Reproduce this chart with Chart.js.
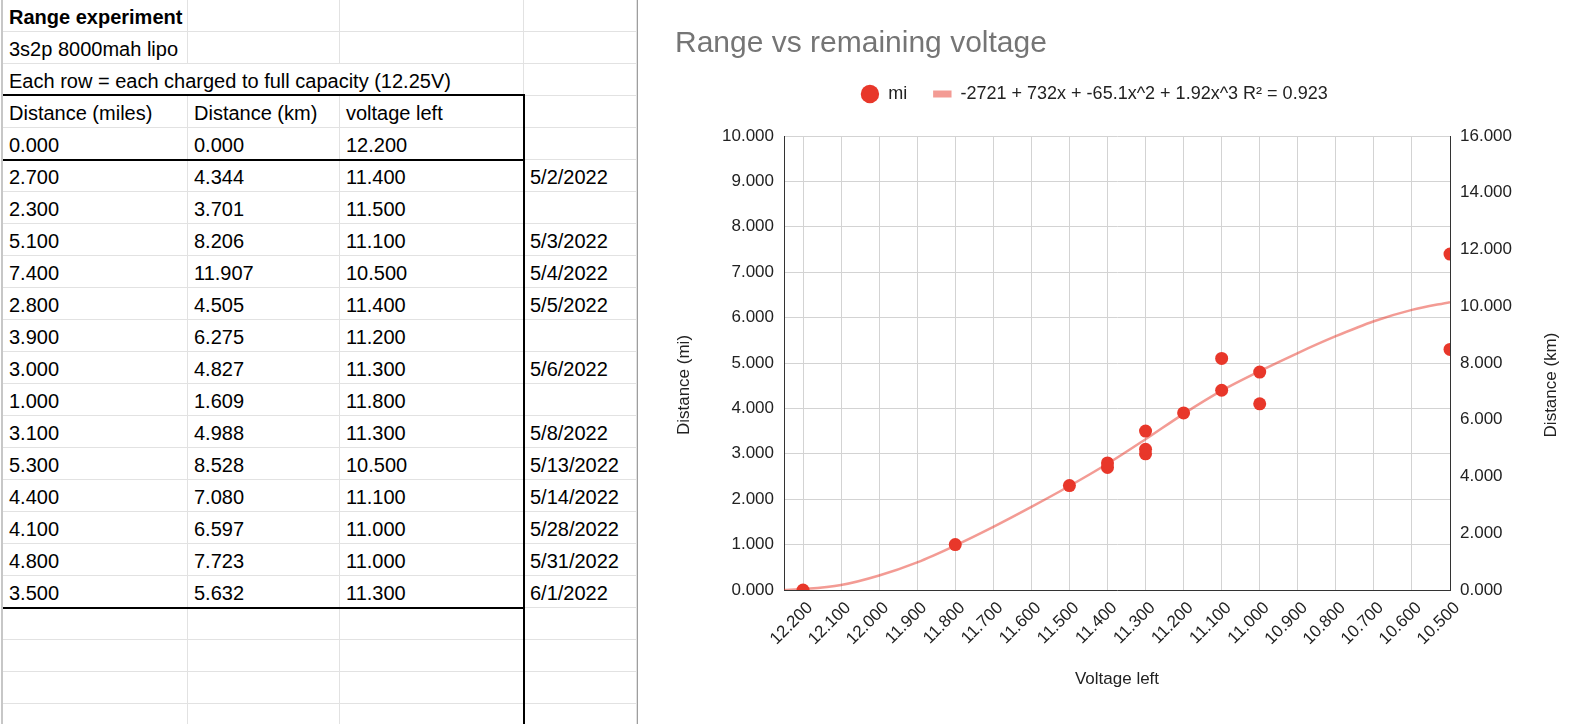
<!DOCTYPE html>
<html>
<head>
<meta charset="utf-8">
<title>Range vs remaining voltage</title>
<script src="https://cdn.jsdelivr.net/npm/chart.js@4.4.0/dist/chart.umd.min.js"></script>
<style>
html,body{margin:0;padding:0;background:#fff;overflow:hidden;}
body{width:1596px;height:724px;position:relative;font-family:Arial,"Liberation Sans",sans-serif;}
#sheet{position:absolute;left:0;top:0;width:637px;height:724px;overflow:hidden;}
.cell{position:absolute;box-sizing:border-box;border-right:1px solid #e2e2e2;border-bottom:1px solid #e2e2e2;
  font-size:20px;line-height:32px;padding:1px 0 0 6px;white-space:nowrap;color:#000;}
.line{position:absolute;background:#000;}
#rowhead{position:absolute;left:1px;top:0;width:2px;height:724px;background:#c7c7c7;}
#split{position:absolute;left:637px;top:0;width:1px;height:724px;background:#9e9e9e;}
#chartBox{position:absolute;left:638px;top:0;width:958px;height:724px;}
</style>
</head>
<body>
<div id="sheet"></div>
<div id="rowhead"></div>
<div id="split"></div>
<div id="chartBox"><canvas id="myChart" width="958" height="724"></canvas></div>
<script>
// sheet data
let voltage=[12.2,11.4,11.5,11.1,10.5,11.4,11.2,11.3,11.8,11.3,10.5,11.1,11.0,11.0,11.3];
let miles=[0,2.7,2.3,5.1,7.4,2.8,3.9,3.0,1.0,3.1,5.3,4.4,4.1,4.8,3.5];
let km=[0,4.344,3.701,8.206,11.907,4.505,6.275,4.827,1.609,4.988,8.528,7.080,6.597,7.723,5.632];
let dates=["","5/2/2022","","5/3/2022","5/4/2022","5/5/2022","","5/6/2022","","5/8/2022","5/13/2022","5/14/2022","5/28/2022","5/31/2022","6/1/2022"];

// trendline (voltage -> miles)
let trendVolts=[12.25,12.2,12.1,12.0,11.9,11.8,11.7,11.6,11.5,11.4,11.3,11.2,11.1,11.0,10.9,10.8,10.7,10.6,10.5];
let trendMiles=[0.00,0.02,0.11,0.32,0.61,0.98,1.39,1.83,2.29,2.78,3.32,3.88,4.39,4.82,5.22,5.59,5.92,6.17,6.34];
let trendLabel="-2721 + 732x + -65.1x^2 + 1.92x^3 R² = 0.923";

let voltTicks=[12.2,12.1,12.0,11.9,11.8,11.7,11.6,11.5,11.4,11.3,11.2,11.1,11.0,10.9,10.8,10.7,10.6,10.5];
let miTicks=[0,1,2,3,4,5,6,7,8,9,10];
let kmTicks=[0,2,4,6,8,10,12,14,16];

// spreadsheet
let sheet=document.getElementById('sheet');
let colX=[3,188,340,524];
let colW=[185,152,184,113];
let rowH=32;

function cell(r,c,text,span,bold){
  let w=0;
  for(let i=c;i<c+span;i++) w+=colW[i];
  let d=document.createElement('div');
  d.className='cell';
  d.style.left=colX[c]+'px';
  d.style.top=(r*rowH)+'px';
  d.style.width=w+'px';
  d.style.height=rowH+'px';
  if(bold) d.style.fontWeight='bold';
  d.textContent=text;
  sheet.appendChild(d);
}

let rows=[];
rows.push([["Range experiment",1,true],["",1],["",1],["",1]]);
rows.push([["3s2p 8000mah lipo",1],["",1],["",1],["",1]]);
rows.push([["Each row = each charged to full capacity (12.25V)",3],["",1]]);
rows.push([["Distance (miles)",1],["Distance (km)",1],["voltage left",1],["",1]]);
for(let i=0;i<miles.length;i++){
  rows.push([[miles[i].toFixed(3),1],[km[i].toFixed(3),1],[voltage[i].toFixed(3),1],[dates[i],1]]);
}
for(let i=0;i<4;i++) rows.push([["",1],["",1],["",1],["",1]]);

for(let r=0;r<rows.length;r++){
  let c=0;
  for(let k=0;k<rows[r].length;k++){
    let it=rows[r][k];
    cell(r,c,it[0],it[1],it[2]);
    c+=it[1];
  }
}

function thick(l,t,w,h){
  let d=document.createElement('div');
  d.className='line';
  d.style.left=l+'px';d.style.top=t+'px';d.style.width=w+'px';d.style.height=h+'px';
  sheet.appendChild(d);
}
thick(3,94,522,2);
thick(3,159,522,2);
thick(3,607,522,2);
thick(523,94,2,630);

// chart
Chart.defaults.font.family='Arial, "Liberation Sans", sans-serif';

let red='#e8372a';
let trendColor='rgba(232,55,42,0.5)';

let legendGap={
  id:'legendGap',
  beforeInit(chart){
    let fit=chart.legend.fit;
    chart.legend.fit=function(){
      fit.bind(chart.legend)();
      this.height+=23;
    };
  }
};

// y axis titles, centred a little below the plot centre like the original
let axisTitles={
  id:'axisTitles',
  afterDraw(chart){
    let ctx=chart.ctx;
    let a=chart.chartArea;
    let cy=(a.top+a.bottom)/2+22;
    ctx.save();
    ctx.font='17px Arial, "Liberation Sans", sans-serif';
    ctx.fillStyle='#222';
    ctx.textAlign='center';
    ctx.textBaseline='middle';
    ctx.translate(a.left-100,cy);
    ctx.rotate(-Math.PI/2);
    ctx.fillText('Distance (mi)',0,0);
    ctx.restore();
    ctx.save();
    ctx.font='17px Arial, "Liberation Sans", sans-serif';
    ctx.fillStyle='#222';
    ctx.textAlign='center';
    ctx.textBaseline='middle';
    ctx.translate(a.right+101,cy);
    ctx.rotate(-Math.PI/2);
    ctx.fillText('Distance (km)',0,0);
    ctx.restore();
  }
};

new Chart(document.getElementById('myChart'),{
  type:'scatter',
  data:{
    datasets:[
      {
        type:'scatter',
        label:'mi',
        data:voltage.map((v,i)=>({x:v,y:miles[i]})),
        backgroundColor:red,
        borderWidth:0,
        pointRadius:6.5,
        pointHoverRadius:6.5,
        clip:0,
        order:0,
        yAxisID:'y'
      },
      {
        type:'line',
        label:trendLabel,
        data:trendVolts.map((v,i)=>({x:v,y:trendMiles[i]})),
        borderColor:trendColor,
        borderWidth:2.5,
        pointRadius:0,
        cubicInterpolationMode:'monotone',
        fill:false,
        clip:0,
        order:1,
        yAxisID:'y'
      }
    ]
  },
  options:{
    responsive:false,
    animation:false,
    layout:{padding:{left:37,right:82.6,top:0,bottom:0}},
    plugins:{
      title:{
        display:true,
        text:'Range vs remaining voltage',
        align:'start',
        color:'#757575',
        font:{size:30,weight:'normal',lineHeight:1},
        padding:{top:29,bottom:0}
      },
      legend:{
        display:true,
        labels:{
          usePointStyle:true,
          pointStyleWidth:18.4,
          boxHeight:13,
          padding:26,
          color:'#222',
          font:{size:18},
          generateLabels:(chart)=>chart.data.datasets.map((ds,i)=>({
            text:ds.label,
            datasetIndex:i,
            hidden:false,
            fontColor:'#222',
            fillStyle:i==0?red:trendColor,
            strokeStyle:i==0?red:trendColor,
            lineWidth:i==0?0:7,
            lineCap:'butt',
            pointStyle:i==0?'circle':'line'
          }))
        }
      },
      tooltip:{enabled:false}
    },
    scales:{
      x:{
        type:'linear',
        reverse:true,
        min:10.5,
        max:12.25,
        afterBuildTicks:(s)=>{s.ticks=voltTicks.map(v=>({value:v}));},
        afterFit:(s)=>{s.height=134;},
        ticks:{
          autoSkip:false,
          minRotation:45,
          maxRotation:45,
          padding:8,
          labelOffset:7,
          color:'#222',
          font:{size:17},
          callback:(v)=>Number(v).toFixed(3)
        },
        grid:{color:'#d3d3d3',drawTicks:false},
        border:{color:'#333',width:1},
        title:{display:true,text:'Voltage left',color:'#222',font:{size:17},padding:{top:0,bottom:34}}
      },
      y:{
        type:'linear',
        position:'left',
        min:0,
        max:10,
        afterBuildTicks:(s)=>{s.ticks=miTicks.map(v=>({value:v}));},
        afterFit:(s)=>{s.width=109;},
        ticks:{padding:10,color:'#222',font:{size:17},callback:(v)=>Number(v).toFixed(3)},
        grid:{color:'#d3d3d3',drawTicks:false},
        border:{color:'#333',width:1}
      },
      y2:{
        type:'linear',
        position:'right',
        min:0,
        max:16,
        afterBuildTicks:(s)=>{s.ticks=kmTicks.map(v=>({value:v}));},
        afterFit:(s)=>{s.width=63.4;},
        ticks:{padding:10,color:'#222',font:{size:17},callback:(v)=>Number(v).toFixed(3)},
        grid:{drawOnChartArea:false,drawTicks:false},
        border:{color:'#333',width:1}
      }
    }
  },
  plugins:[legendGap,axisTitles]
});
</script>
</body>
</html>
